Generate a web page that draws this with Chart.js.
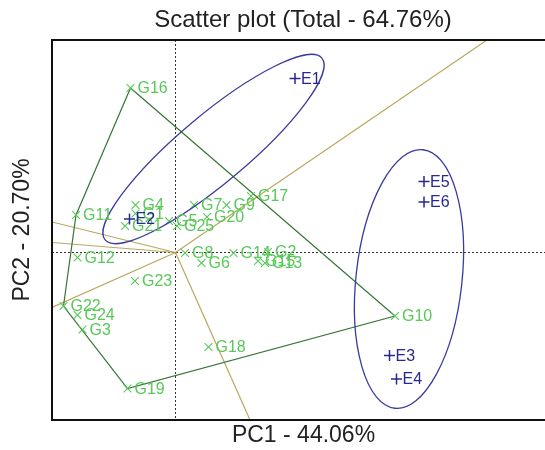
<!DOCTYPE html>
<html>
<head>
<meta charset="utf-8">
<script src="https://cdn.jsdelivr.net/npm/chart.js@4.4.0/dist/chart.umd.min.js"></script>
<style>
html, body { margin: 0; padding: 0; overflow: hidden; background: #fff; }
#wrap { width: 606px; height: 450px; }
</style>
</head>
<body>
<div id="wrap"><canvas id="myChart" width="606" height="450"></canvas></div>
<script>
// genotype scores (PC1, PC2)
const genotypes = ['G1', 'G2', 'G3', 'G4', 'G5', 'G6', 'G7', 'G8', 'G9', 'G10', 'G11', 'G12', 'G13',
    'G14', 'G15', 'G16', 'G17', 'G18', 'G19', 'G20', 'G21', 'G22', 'G23', 'G24', 'G25']
const genoX = [-0.80, 1.85, -1.86, -0.80, -0.13, 0.52, 0.37, 0.19, 1.02, 4.39, -1.99, -1.96, 1.79,
    1.16, 1.65, -0.90, 1.51, 0.66, -0.96, 0.63, -1.01, -2.24, -0.81, -1.96, 0.03]
const genoY = [0.78, 0.01, -1.54, 0.95, 0.63, -0.21, 0.95, -0.01, 0.95, -1.27, 0.75, -0.10, -0.21,
    -0.01, -0.17, 3.29, 1.13, -1.89, -2.72, 0.71, 0.53, -1.07, -0.57, -1.25, 0.53]

// environment scores
const envs = ['E1', 'E2', 'E3', 'E4', 'E5', 'E6']
const envX = [2.39, -0.92, 4.28, 4.42, 4.97, 4.97]
const envY = [3.48, 0.67, -2.06, -2.53, 1.42, 1.01]

// polygon vertices and the rays from the origin
const hullOrder = ['G16', 'G10', 'G19', 'G22', 'G11', 'G16']
const rayX = [6.23, -2.47, -2.47, -2.47, 1.49]
const rayY = [4.25, 0.61, 0.20, -1.10, -3.35]

// mega-environment ellipses: centre, semi axes, angle (deg)
const ellCx = [0.76, 4.67]
const ellCy = [2.07, -0.53]
const ellA = [2.83, 2.60]
const ellB = [0.68, 1.06]
const ellAngle = [40, 83.8]

const xMin = -2.47, xMax = 7.59, yMin = -3.35, yMax = 4.25

const green = '#58c858'
const blue = '#28288f'
const hullColor = '#357535'
const rayColor = '#b9a85e'
const font = "'Liberation Sans', Arial, sans-serif"

const genoPoints = genotypes.map((g, i) => ({ x: genoX[i], y: genoY[i] }))
const envPoints = envs.map((e, i) => ({ x: envX[i], y: envY[i] }))
const hullPoints = hullOrder.map(g => genoPoints[genotypes.indexOf(g)])

const rayDatasets = rayX.map((x, i) => ({
    data: [{ x: 0, y: 0 }, { x: x, y: rayY[i] }],
    showLine: true,
    borderColor: rayColor,
    borderWidth: 1.2,
    pointRadius: 0,
    order: 5
}))

const backdrop = {
    id: 'backdrop',
    beforeDatasetsDraw(chart) {
        const { ctx, chartArea: a, scales: { x, y } } = chart
        ctx.save()
        ctx.strokeStyle = '#333'
        ctx.lineWidth = 1
        ctx.setLineDash([2, 2])
        ctx.beginPath()
        ctx.moveTo(x.getPixelForValue(0), a.top)
        ctx.lineTo(x.getPixelForValue(0), a.bottom)
        ctx.moveTo(a.left, y.getPixelForValue(0))
        ctx.lineTo(a.right, y.getPixelForValue(0))
        ctx.stroke()
        ctx.restore()
    },
    afterDatasetsDraw(chart) {
        const { ctx, chartArea: a, scales: { x, y } } = chart
        ctx.save()
        ctx.beginPath()
        ctx.rect(a.left, a.top, a.right - a.left, a.bottom - a.top)
        ctx.clip()
        const sx = x.getPixelForValue(1) - x.getPixelForValue(0)
        const sy = y.getPixelForValue(0) - y.getPixelForValue(1)
        ctx.strokeStyle = '#3b3b9e'
        ctx.lineWidth = 1.3
        for (let i = 0; i < ellCx.length; i++) {
            ctx.save()
            ctx.translate(x.getPixelForValue(ellCx[i]), y.getPixelForValue(ellCy[i]))
            ctx.scale(sx, -sy)
            ctx.rotate(ellAngle[i] * Math.PI / 180)
            ctx.beginPath()
            ctx.ellipse(0, 0, ellA[i], ellB[i], 0, 0, 2 * Math.PI)
            ctx.restore()
            ctx.stroke()
        }
        ctx.restore()

        // point labels
        ctx.save()
        ctx.textBaseline = 'middle'
        ctx.textAlign = 'left'
        ctx.font = '16px ' + font
        ctx.fillStyle = green
        chart.getDatasetMeta(1).data.forEach((p, i) => ctx.fillText(genotypes[i], p.x + 7, p.y + 1))
        ctx.fillStyle = blue
        chart.getDatasetMeta(0).data.forEach((p, i) => ctx.fillText(envs[i], p.x + 6, p.y + 1))
        ctx.restore()
    },
    afterDraw(chart) {
        const { ctx, chartArea: a } = chart
        ctx.save()
        ctx.strokeStyle = '#111'
        ctx.lineWidth = 2
        ctx.strokeRect(a.left, a.top, a.right - a.left, a.bottom - a.top)
        ctx.restore()
    }
}

const myChart = new Chart(document.getElementById('myChart').getContext('2d'), {
    type: 'scatter',
    data: {
        datasets: [{
            label: 'Environments',
            data: envPoints,
            pointStyle: 'cross',
            pointRadius: 5.5,
            borderColor: blue,
            borderWidth: 1.5,
            order: 0
        }, {
            label: 'Genotypes',
            data: genoPoints,
            pointStyle: 'crossRot',
            pointRadius: 5.5,
            borderColor: green,
            borderWidth: 1.1,
            order: 1
        }, {
            label: 'Polygon',
            data: hullPoints,
            showLine: true,
            borderColor: hullColor,
            borderWidth: 1.2,
            pointRadius: 0,
            order: 4
        }, ...rayDatasets]
    },
    options: {
        responsive: false,
        animation: false,
        events: [],
        plugins: {
            legend: { display: false },
            tooltip: { enabled: false },
            title: {
                display: true,
                text: 'Scatter plot (Total - 64.76%)',
                color: '#222',
                font: { size: 24, weight: 'normal', family: font },
                padding: { top: 5.6, bottom: 5.6 }
            }
        },
        scales: {
            x: {
                type: 'linear', min: xMin, max: xMax,
                ticks: { display: false }, grid: { display: false }, border: { display: false },
                title: { display: true, text: 'PC1 - 44.06%', color: '#222', font: { size: 23, family: font }, padding: { top: 0, bottom: 1 } },
                afterFit(s) { s.height = 30 }
            },
            y: {
                type: 'linear', min: yMin, max: yMax,
                ticks: { display: false }, grid: { display: false }, border: { display: false },
                title: { display: true, text: 'PC2 - 20.70%', color: '#222', font: { size: 23, family: font }, padding: { top: 9, bottom: 0 } },
                afterFit(s) { s.width = 52 }
            },
            // empty right axis, only reserves the space past the window edge
            yRight: {
                type: 'linear', position: 'right', min: yMin, max: yMax,
                ticks: { display: false }, grid: { display: false }, border: { display: false },
                afterFit(s) { s.width = 51 }
            }
        }
    },
    plugins: [backdrop]
})
</script>
</body>
</html>
